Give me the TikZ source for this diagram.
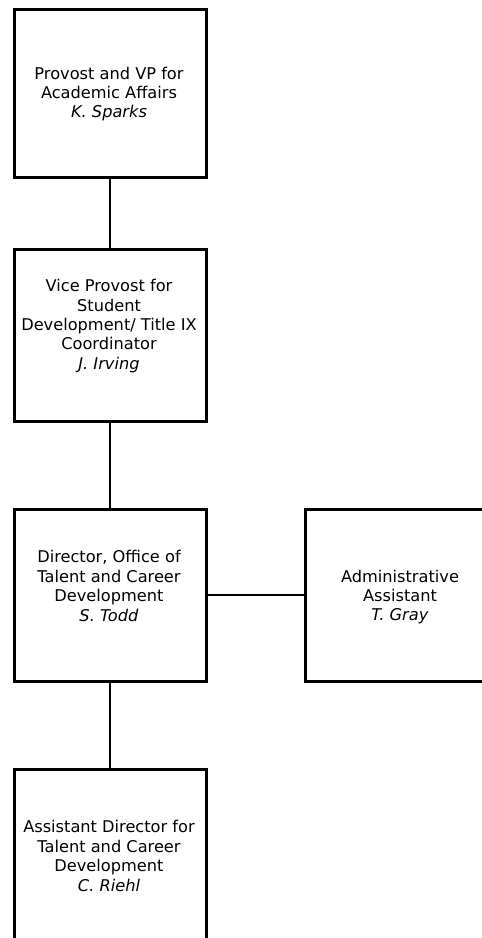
\documentclass[tikz,border=0pt]{standalone}
\usepackage{fontspec}
\setmainfont{DejaVu Sans}
\begin{document}
\begin{tikzpicture}[x=1pt,y=-1pt,
  box/.style={draw, line width=2.8pt, minimum width=192pt, inner sep=0pt, anchor=north west},
  lbl/.style={align=center, font=\fontsize{16.2pt}{19.4pt}\selectfont, inner sep=0pt},
  link/.style={line width=2pt}]
\clip (0,0) rectangle (482,938);
\fill[white] (0,0) rectangle (482,938);
\node[box, minimum height=168pt] (b1) at (13,8) {};
\node[box, minimum height=172pt] (b2) at (13,248) {};
\node[box, minimum height=172pt] (b3) at (13,508) {};
\node[box, minimum height=172pt] (br) at (304,508) {};
\node[box, minimum height=172pt] (b4) at (13,768) {};
\node[lbl] (t1) at (109,94) {Provost and VP for\\Academic Affairs\\\textit{K. Sparks}};
\node[lbl] (t2) at (109,326) {Vice Provost for\\Student\\Development/ Title IX\\Coordinator\\\textit{J. Irving}};
\node[lbl] (t3) at (109,586) {Director, Office of\\Talent and Career\\Development\\\textit{S. Todd}};
\node[lbl] (tr) at (400,597) {Administrative\\Assistant\\\textit{T. Gray}};
\node[lbl] (t4) at (109,856) {Assistant Director for\\Talent and Career\\Development\\\textit{C. Riehl}};
\draw[link] (b1.south) -- (b2.north);
\draw[link] (b2.south) -- (b3.north);
\draw[link] (b3.south) -- (b4.north);
\draw[link] (b3.east) -- (br.west);
\end{tikzpicture}
\end{document}
